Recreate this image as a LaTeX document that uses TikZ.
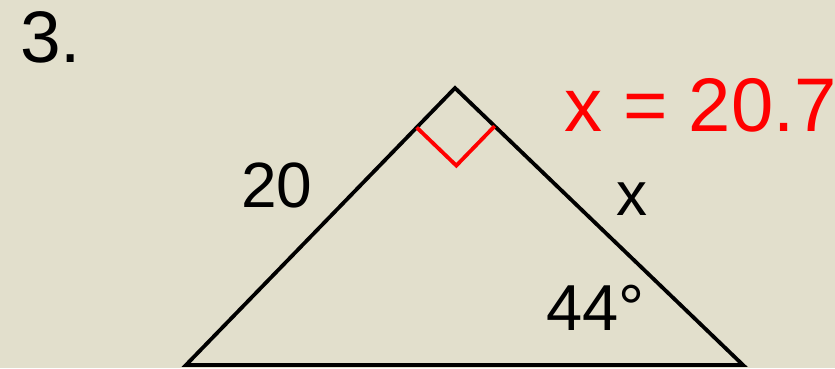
\documentclass[tikz,border=0pt]{standalone}
\usepackage{fontspec}
\setmainfont{Liberation Sans}
\usetikzlibrary{calc}
\definecolor{bg}{RGB}{226,223,204}
\definecolor{ansred}{RGB}{255,0,0}
\begin{document}
\begin{tikzpicture}[x=1pt,y=1pt,
  side/.style={line width=3.8pt,line join=miter},
  rmark/.style={draw=ansred,line width=3.8pt,line join=miter},
  lbl/.style={inner sep=0pt,anchor=base west}]
\fill[bg] (0,0) rectangle (835,368);
\useasboundingbox (0,0) rectangle (835,368);
\coordinate (L) at (186,3);
\coordinate (R) at (743,3);
\coordinate (T) at (455,280);
\draw[side] (L) -- (T) -- (R) -- cycle;
\coordinate (P1) at ($(T)!55pt!(L)$);
\coordinate (P2) at ($(T)!55pt!(R)$);
\coordinate (C) at ($(P1)+(P2)-(T)$);
\draw[rmark] (P1) -- (C) -- (P2);
\node[lbl,font={\fontsize{73}{80}\selectfont}] (num) at (20,306) {3.};
\node[lbl,text=ansred,font={\fontsize{76}{84}\selectfont}] (ans) at (564,237) {x = 20.7};
\node[lbl,font={\fontsize{64}{70}\selectfont}] (s20) at (241,161) {20};
\node[lbl,font={\fontsize{62}{70}\selectfont}] (sx) at (616,153) {x};
\node[lbl,font={\fontsize{65}{70}\selectfont}] (ang) at (546,38) {44°};
\end{tikzpicture}
\end{document}
